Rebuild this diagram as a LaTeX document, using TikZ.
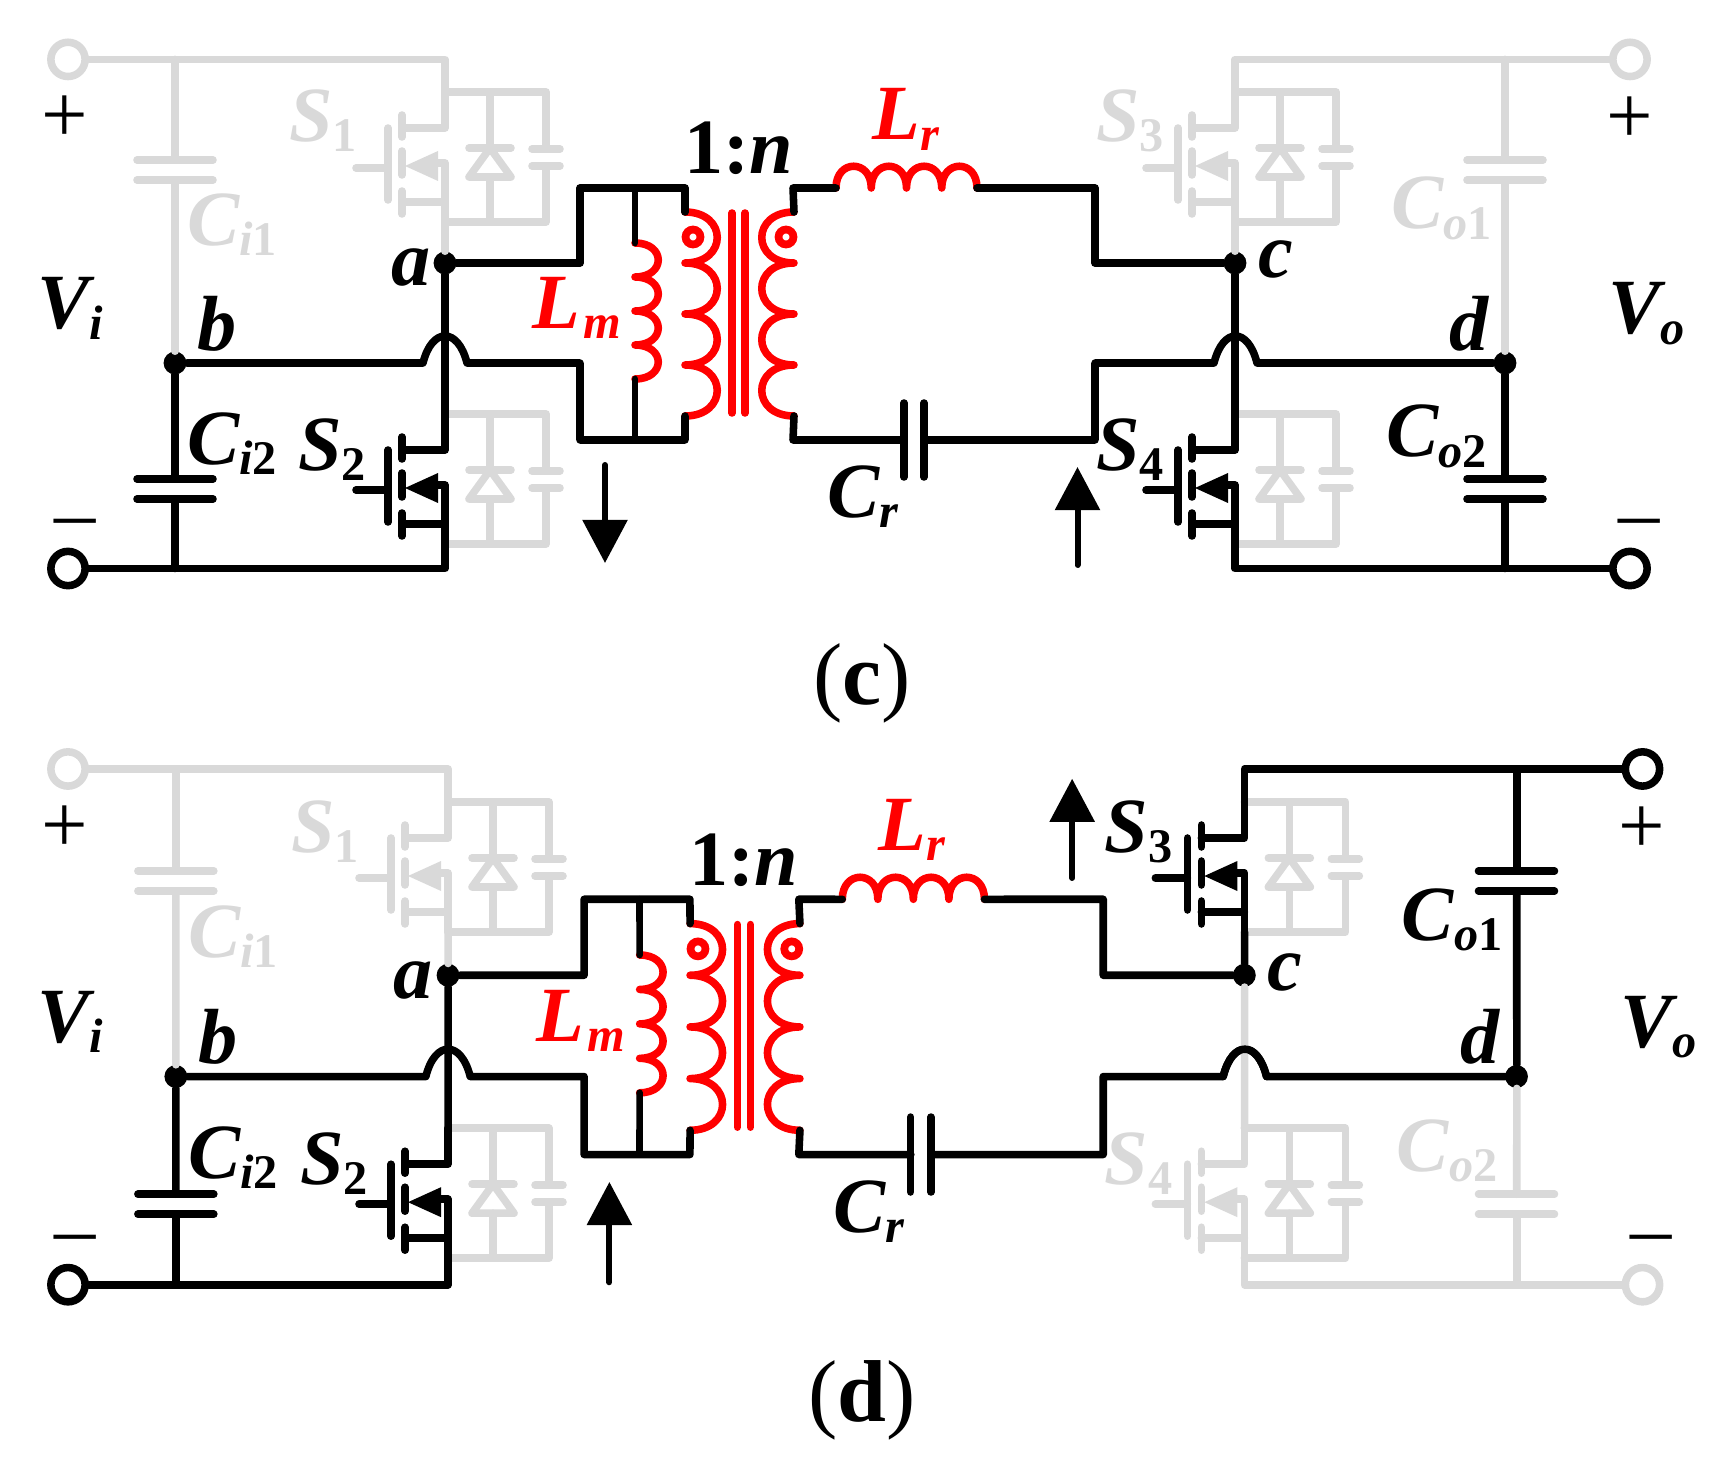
\documentclass[tikz,border=0pt]{standalone}
\usepackage{fontspec}
\setmainfont{Liberation Serif}
\usetikzlibrary{arrows.meta}
\definecolor{ghostgray}{HTML}{D9D9D9}
\newcommand{\subt}[1]{\raisebox{-5.7pt}{\fontsize{27.5}{28}\selectfont #1}}

% everything both panels share: left half, tank, transformer, labels
\newcommand{\cellcommon}{
	\node[jct] (a) at (445,263) {};
	\node[jct] (b) at (175,363) {};
	\node[jct] (c) at (1235,263) {};
	\node[jct] (d) at (1505,363) {};
	\node[ghost,ring] (ipos) at (68,59.4) {};
	\node[ring] (ineg) at (68,568.5) {};

	\pic[ghost] (boxS1) at (445,92) {bodybox};
	\pic[ghost] (boxS2) at (445,414) {bodybox};
	\pic[ghost] (boxS3) at (1235,92) {bodybox};
	\pic[ghost] (boxS4) at (1235,414) {bodybox};
	\pic[ghost] (S1) at (445,92) {switch};
	\pic[ghost] (Ci1) at (175,170) {vcap};
	\draw[wire,ghost] (ipos) -| (S1-top);
	\draw[wire,ghost] (S1-bot) -- (a);
	\draw[wire,ghost] (Ci1-top) -- (Ci1-top |- ipos);
	\draw[wire,ghost] (Ci1-bot) -- (b);

	\pic (S2) at (445,414) {switch};
	\pic (Ci2) at (175,489) {vcap};
	\draw[wire] (a) -- (S2-top);
	\draw[wire] (S2-bot) |- (ineg);
	\draw[wire] (Ci2-top) -- (b);
	\draw[wire] (Ci2-bot) -- (Ci2-bot |- ineg);

	% transformer
	\coordinate (pri_top) at (685,212);
	\coordinate (pri_bot) at (685,416);
	\coordinate (sec_top) at (794,212);
	\coordinate (sec_bot) at (794,416);
	\coordinate (lm_top) at (635,243);
	\coordinate (lm_bot) at (635,379);
	\coordinate (lr_in) at (836,188);
	\coordinate (lr_out) at (977,188);
	\coordinate (cr_in) at (904,440);
	\coordinate (cr_out) at (924,440);
	\draw[coil] (pri_top) .. controls +(43,0) and +(43,0) .. ++(0,51)
		.. controls +(43,0) and +(43,0) .. ++(0,51)
		.. controls +(43,0) and +(43,0) .. ++(0,51)
		.. controls +(43,0) and +(43,0) .. (pri_bot);
	\draw[coil] (sec_top) .. controls +(-43,0) and +(-43,0) .. ++(0,51)
		.. controls +(-43,0) and +(-43,0) .. ++(0,51)
		.. controls +(-43,0) and +(-43,0) .. ++(0,51)
		.. controls +(-43,0) and +(-43,0) .. (sec_bot);
	\draw[coil] (lm_top) .. controls +(31,0) and +(31,0) .. ++(0,34)
		.. controls +(31,0) and +(31,0) .. ++(0,34)
		.. controls +(31,0) and +(31,0) .. ++(0,34)
		.. controls +(31,0) and +(31,0) .. (lm_bot);
	\draw[coil] (lr_in) .. controls +(0,-29) and +(0,-29) .. ++(35.25,0)
		.. controls +(0,-29) and +(0,-29) .. ++(35.25,0)
		.. controls +(0,-29) and +(0,-29) .. ++(35.25,0)
		.. controls +(0,-29) and +(0,-29) .. (lr_out);
	\draw[coil] (732,213) -- (732,413);
	\draw[coil] (745,213) -- (745,413);
	\node[polarity] (dot_pri) at (693,237) {};
	\node[polarity] (dot_sec) at (786,237) {};

	% tank wiring
	\draw[wire] (a) -| (580,188) -- (685,188) -- (pri_top);
	\draw[wire] (b) -- (423,363) .. controls (432,327) and (458,327) .. (467,363) -- (580,363) -- (580,440) -- (685,440) -- (pri_bot);
	\draw[wire,thinner] (635,188) -- (lm_top);
	\draw[wire,thinner] (lm_bot) -- (635,440);
	\draw[wire] (sec_top) -- (793,188) -- (lr_in);
	\draw[wire] (lr_out) -- (1095,188) |- (c);
	\draw[wire] (sec_bot) -- (793,440) -- (cr_in);
	\draw[wire] (904,403) -- (904,477);
	\draw[wire] (924,403) -- (924,477);
	\draw[wire] (cr_out) -- (1095,440) -- (1095,363) -- (1214,363) .. controls (1223,327) and (1248,327) .. (1257,363) -- (d);

	\node[lab] (lab_vi) at (37,329) {V\subt{i}};
	\node[lab] (lab_vo) at (1608,334) {V\subt{o}};
	\node[lab] (lab_a) at (391,286) {a};
	\node[lab] (lab_b) at (197,350.6) {b};
	\node[lab] (lab_c) at (1258,278) {c};
	\node[lab] (lab_d) at (1449,350.6) {d};
	\node[lab,ghost] (lab_s1) at (289,141.7) {S\subt{\upshape 1}};
	\node[lab] (lab_s2) at (298,470) {S\subt{\upshape 2}};
	\node[lab,ghost] (lab_ci1) at (187,245.4) {C\subt{i\upshape 1}};
	\node[lab] (lab_ci2) at (187,464) {C\subt{i\upshape 2}};
	\node[lab] (lab_n) at (684,174) {\upshape 1:\itshape n};
	\node[lab,red] (lab_lm) at (532,328.6) {L\hspace{2pt}\subt{m}};
	\node[lab,red] (lab_lr) at (872,140) {L\subt{r}};
	\node[lab] (lab_cr) at (827,517) {C\subt{r}};
	\node[sign] (ip_sign) at (65,119) {+};
	\node[sign] (in_sign) at (75,530) {--};
	\node[sign] (op_sign) at (1629.5,120) {+};
	\node[sign] (on_sign) at (1639,530) {--};
}

\begin{document}
\begin{tikzpicture}[
  x=0.02cm, y=-0.02cm,
  wire/.style={line width=4.3pt, line cap=round, line join=round},
  thinner/.style={line width=3.8pt},
  coil/.style={wire, red},
  ghost/.style={color=ghostgray},
  jct/.style={circle, fill, inner sep=0pt, minimum size=13pt},
  ring/.style={circle, draw, fill=white, line width=4.3pt, inner sep=0pt, minimum size=19.5pt},
  polarity/.style={circle, draw=red, line width=4.4pt, inner sep=0pt, minimum size=8.5pt},
  lab/.style={font=\fontsize{44.5}{46}\selectfont\bfseries\itshape, anchor=base west, inner sep=0pt},
  sign/.style={font=\fontsize{47}{48}\selectfont, inner sep=0pt},
  caption/.style={font=\fontsize{50}{52}\selectfont, anchor=base, inner sep=0pt},
  flow/.style={-{Triangle[length=24.5pt,width=25pt]}, line width=3.4pt, line cap=round},
  switch/.pic={
    \coordinate (-top) at (0,0);
    \coordinate (-bot) at (0,130);
    \draw[wire] (0,0) -- (0,36) -- (-43,36);
    \draw[wire] (-43,110) -- (0,110);
    \draw[wire] (-7,71) -- (0,71) -- (0,130);
    \draw[wire] (-89,76) -- (-57,76);
    \draw[wire] (-57,36) -- (-57,108);
    \draw[wire] (-43,23) -- (-43,45);
    \draw[wire] (-43,59) -- (-43,83);
    \draw[wire] (-43,99) -- (-43,122);
    \fill (-40,74) -- (-7,59) -- (-7,89) -- cycle;
  },
  bodybox/.pic={
    \draw[wire] (0,0) -- (101,0) -- (101,57);
    \draw[wire] (87,57) -- (115,57);
    \draw[wire] (87,74) -- (115,74);
    \draw[wire] (101,74) -- (101,130) -- (0,130);
    \draw[wire] (45,0) -- (45,56);
    \draw[wire] (24,56) -- (66,56);
    \draw[wire] (45,56) -- (24,85) -- (66,85) -- cycle;
    \draw[wire] (45,85) -- (45,130);
  },
  vcap/.pic={
    \coordinate (-top) at (0,-10);
    \coordinate (-bot) at (0,10);
    \draw[wire] (-38,-10) -- (38,-10);
    \draw[wire] (-38,10) -- (38,10);
  }
  ]
	\useasboundingbox (0,0) rectangle (1724,1466);

	% panel (c)
	\begin{scope}[name prefix=c-]
		\cellcommon
		\node[ghost,ring] (opos) at (1630,59.4) {};
		\node[ring] (oneg) at (1630,568.5) {};
		\pic[ghost] (S3) at (1235,92) {switch};
		\pic (S4) at (1235,414) {switch};
		\pic[ghost] (Co1) at (1505,170) {vcap};
		\pic (Co2) at (1505,489) {vcap};

		\draw[wire,ghost] (opos) -| (S3-top);
		\draw[wire,ghost] (S3-bot) -- (c);
		\draw[wire,ghost] (Co1-top) -- (Co1-top |- opos);
		\draw[wire,ghost] (Co1-bot) -- (d);
		\draw[wire] (c) -- (S4-top);
		\draw[wire] (S4-bot) |- (oneg);
		\draw[wire] (Co2-top) -- (d);
		\draw[wire] (Co2-bot) -- (Co2-bot |- oneg);

		\node[lab,ghost] (lab_s3) at (1096,141.7) {S\subt{\upshape 3}};
		\node[lab] (lab_s4) at (1096,470) {S\subt{\upshape 4}};
		\node[lab,ghost] (lab_co1) at (1391,229) {C\subt{o\upshape 1}};
		\node[lab] (lab_co2) at (1386,457) {C\subt{o\upshape 2}};

		\coordinate (down_start) at (605,465);
		\coordinate (down_end) at (605,563);
		\coordinate (up_start) at (1077.5,565);
		\coordinate (up_end) at (1077.5,467);
		\draw[flow] (down_start) -- (down_end);
		\draw[flow] (up_start) -- (up_end);
	\end{scope}

	% panel (d), same circuit a touch larger
	\begin{scope}[name prefix=d-, shift={(-0.54,708.8)}, xscale=1.008, yscale=1.013]
		\cellcommon
		\node[ring] (opos) at (1630,59.4) {};
		\node[ghost,ring] (oneg) at (1630,568.5) {};
		\pic (S3) at (1235,92) {switch};
		\pic[ghost] (S4) at (1235,414) {switch};
		\pic (Co1) at (1505,170) {vcap};
		\pic[ghost] (Co2) at (1505,489) {vcap};

		\draw[wire,ghost] (c) -- (S4-top);
		\draw[wire,ghost] (S4-bot) |- (oneg);
		\draw[wire,ghost] (Co2-top) -- (d);
		\draw[wire,ghost] (Co2-bot) -- (Co2-bot |- oneg);
		\draw[wire] (opos) -| (S3-top);
		\draw[wire] (S3-bot) -- (c);
		\draw[wire] (Co1-top) -- (Co1-top |- opos);
		\draw[wire] (Co1-bot) -- (d);
		% hop has to stay on top of the grey leg
		\draw[wire] (1214,363) .. controls (1223,327) and (1248,327) .. (1257,363);

		\node[lab] (lab_s3) at (1096,141.7) {S\subt{\upshape 3}};
		\node[lab,ghost] (lab_s4) at (1096,470) {S\subt{\upshape 4}};
		\node[lab] (lab_co1) at (1391,229) {C\subt{o\upshape 1}};
		\node[lab,ghost] (lab_co2) at (1386,457) {C\subt{o\upshape 2}};

		\coordinate (up_start) at (605,566);
		\coordinate (up_end) at (605,467);
		\coordinate (top_start) at (1064,167);
		\coordinate (top_end) at (1064,69);
		\draw[flow] (up_start) -- (up_end);
		\draw[flow] (top_start) -- (top_end);
	\end{scope}

	\node[caption] (cap_c) at (862,704) {(\textbf{c})};
	\node[caption] (cap_d) at (862,1421.5) {(\textbf{d})};
\end{tikzpicture}
\end{document}
